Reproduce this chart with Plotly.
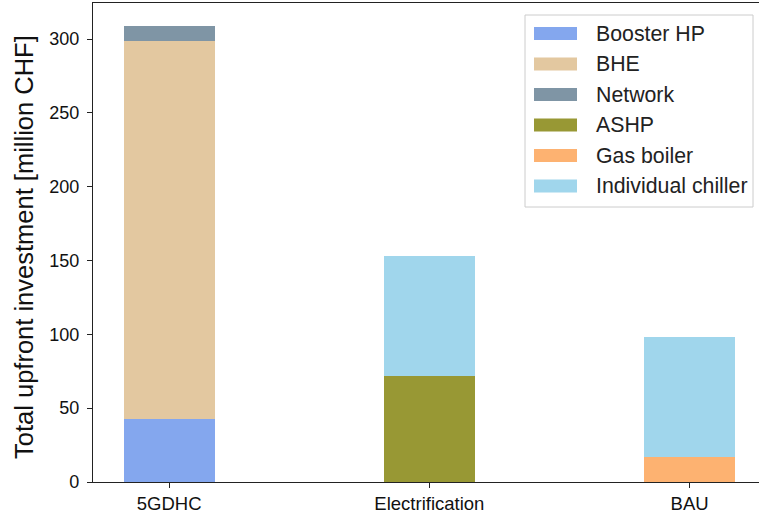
import plotly.graph_objects as go

# Scenario categories and cost components (million CHF)
scenarios = ["5GDHC", "Electrification", "BAU"]
components = ["Booster HP", "BHE", "Network", "ASHP", "Gas boiler", "Individual chiller"]
colors = ["#84a7ee", "#e3c8a0", "#7f95a5", "#989834", "#fdb271", "#a0d6ec"]

booster_hp = [43, 0, 0]
bhe = [256, 0, 0]
network = [10, 0, 0]
ashp = [0, 72, 0]
gas_boiler = [0, 0, 17]
individual_chiller = [0, 81, 81]

series = [booster_hp, bhe, network, ashp, gas_boiler, individual_chiller]
y_ticks = [0, 50, 100, 150, 200, 250, 300]

FONT = "Liberation Sans, Arial, Helvetica, sans-serif"

fig = go.Figure()
for name, vals, col in zip(components, series, colors):
    fig.add_trace(go.Bar(
        x=list(range(len(scenarios))), y=vals, name=name,
        marker=dict(color=col, line=dict(width=0)),
        width=0.35, showlegend=False,
    ))

# Figure geometry in pixels
W, H = 759, 513
L, R, T, B = 93, 0, 3, 31
pw, ph = W - L - R, H - T - B


def px_x(x):
    return (x - L) / pw


def px_y(y):
    return (H - B - y) / ph


# Legend frame
shapes = [dict(
    type="rect", xref="paper", yref="paper",
    x0=px_x(525), x1=px_x(753), y0=px_y(207), y1=px_y(15),
    line=dict(color="#cccccc", width=1), fillcolor="rgba(255,255,255,0.85)",
    layer="above",
)]
annotations = []
row0, step = 33.5, 30.5
for i, (name, col) in enumerate(zip(components, colors)):
    cy = row0 + i * step
    shapes.append(dict(
        type="rect", xref="paper", yref="paper",
        x0=px_x(534), x1=px_x(577), y0=px_y(cy + 6.5), y1=px_y(cy - 6.5),
        line=dict(width=0), fillcolor=col, layer="above",
    ))
    annotations.append(dict(
        xref="paper", yref="paper", x=px_x(594), y=px_y(cy),
        xanchor="left", yanchor="middle", text=name, showarrow=False,
        font=dict(family=FONT, size=21.3, color="#222222"),
    ))

# y-axis title
annotations.append(dict(
    xref="paper", yref="paper", x=px_x(24), y=px_y(247),
    xanchor="center", yanchor="middle", text="Total upfront investment [million CHF]",
    textangle=-90, showarrow=False,
    font=dict(family=FONT, size=25.5, color="#111111"),
))

fig.update_layout(
    width=W, height=H,
    margin=dict(l=L, r=R, t=T, b=B, pad=0),
    barmode="stack",
    bargap=0,
    plot_bgcolor="white", paper_bgcolor="white",
    font=dict(family=FONT, size=18.5, color="#111111"),
    shapes=shapes, annotations=annotations,
    xaxis=dict(
        range=[-0.2925, (W - L - R) / 260.25 - 0.2925],
        tickmode="array", tickvals=list(range(len(scenarios))), ticktext=scenarios,
        showline=True, linecolor="#222222", linewidth=1.3, mirror=True,
        ticks="outside", ticklen=5, tickwidth=1.2, tickcolor="#222222",
        showgrid=False, zeroline=False,
        tickfont=dict(family=FONT, size=18.5, color="#111111"),
    ),
    yaxis=dict(
        range=[0, 324.45],
        tickmode="array", tickvals=y_ticks,
        showline=True, linecolor="#222222", linewidth=1.3,
        ticks="outside", ticklen=5, tickwidth=1.2, tickcolor="#222222",
        showgrid=False, zeroline=False, ticklabelstandoff=4,
        tickfont=dict(family=FONT, size=18, color="#111111"),
    ),
)

fig.write_html("out.html")
